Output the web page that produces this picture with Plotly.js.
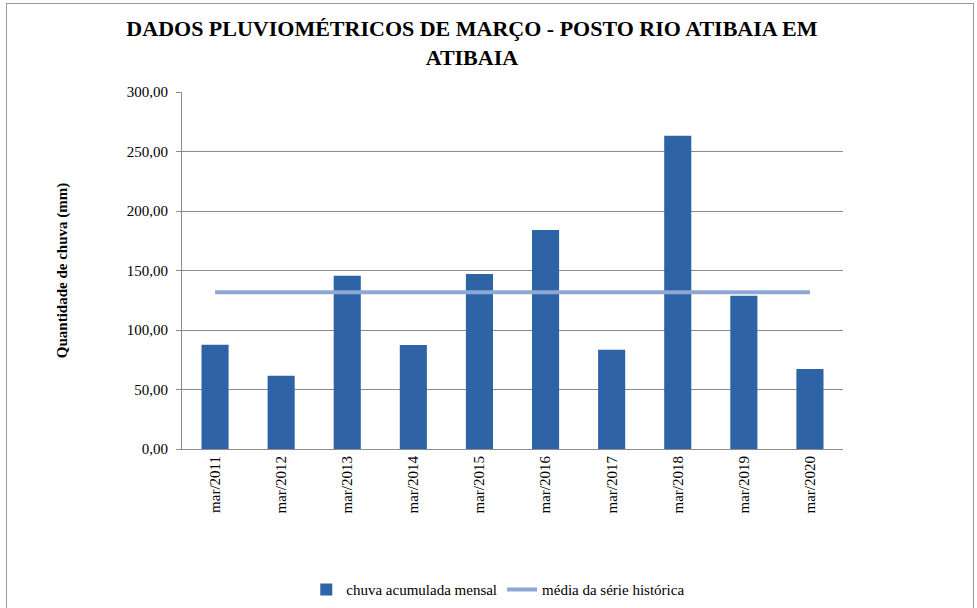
<!DOCTYPE html>
<html>
<head>
<meta charset="utf-8">
<script src="https://cdn.plot.ly/plotly-3.0.1.min.js"></script>
<style>
html,body{margin:0;padding:0;background:#fff;overflow:hidden;width:977px;height:608px;}
#frame{position:absolute;left:6px;top:3px;width:968px;height:610px;border:1px solid #9a9a9a;box-sizing:border-box;pointer-events:none;z-index:5;}
#chart{position:absolute;left:0;top:0;width:977px;height:608px;}
</style>
</head>
<body>
<div id="chart"></div>
<div id="frame"></div>
<script>
const categories = ["mar/2011","mar/2012","mar/2013","mar/2014","mar/2015","mar/2016","mar/2017","mar/2018","mar/2019","mar/2020"];
const rainfall = [87.6, 61.5, 145.6, 87.5, 147.0, 184.0, 83.3, 263.3, 128.8, 67.3];
const historicalMean = [131.7, 131.7, 131.7, 131.7, 131.7, 131.7, 131.7, 131.7, 131.7, 131.7];
const yTicks = [0, 50, 100, 150, 200, 250, 300];

const serif = "Liberation Serif, Times New Roman, serif";

const traces = [
  {
    type: 'bar',
    name: 'chuva acumulada mensal',
    x: categories,
    y: rainfall,
    marker: {color: '#2e63a6', line: {width: 0}},
    hoverinfo: 'x+y'
  },
  {
    type: 'scatter',
    mode: 'lines',
    name: 'média da série histórica',
    x: categories,
    y: historicalMean,
    line: {color: '#8ea8d4', width: 4}
  }
];

const layout = {
  width: 977,
  height: 608,
  paper_bgcolor: '#ffffff',
  plot_bgcolor: '#ffffff',
  separators: ',.',
  margin: {l: 182, r: 134, t: 92, b: 159, autoexpand: false},
  font: {family: serif, color: '#000000', size: 15},
  title: {
    text: '<b>DADOS PLUVIOMÉTRICOS DE MARÇO - POSTO RIO ATIBAIA EM<br>ATIBAIA</b>',
    font: {family: serif, size: 22, color: '#000000'},
    x: 0.483, xref: 'container', xanchor: 'center',
    y: 0.94, yref: 'container', yanchor: 'top',
    automargin: false
  },
  bargap: 0.59,
  xaxis: {
    type: 'category',
    tickangle: -90,
    tickfont: {family: serif, size: 15},
    showline: true, linecolor: '#8c8c8c', linewidth: 1,
    showgrid: false,
    ticks: '',
    automargin: false
  },
  yaxis: {
    range: [0, 300],
    tickvals: yTicks,
    tickformat: '.2f',
    tickfont: {family: serif, size: 15},
    showline: true, linecolor: '#8c8c8c', linewidth: 1,
    showgrid: true, gridcolor: '#8c8c8c', gridwidth: 1,
    ticks: 'outside', ticklen: 5, tickcolor: '#8c8c8c',
    ticklabelstandoff: 5,
    zeroline: false,
    automargin: false,
    title: {
      text: '<b>Quantidade de chuva (mm)</b>',
      font: {family: serif, size: 15},
      standoff: 55
    }
  },
  showlegend: true,
  legend: {
    orientation: 'h',
    x: 0.51, xref: 'container', xanchor: 'center',
    y: 0.03, yref: 'container', yanchor: 'middle',
    font: {family: serif, size: 15},
    traceorder: 'normal',
    itemwidth: 30
  }
};

Plotly.newPlot('chart', traces, layout, {displayModeBar: false, staticPlot: true});
</script>
</body>
</html>
